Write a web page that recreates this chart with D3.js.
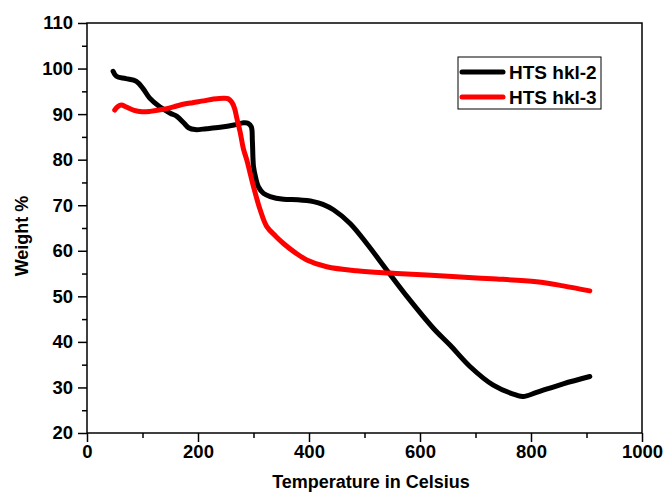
<!DOCTYPE html>
<html>
<head>
<meta charset="utf-8">
<script src="https://cdn.jsdelivr.net/npm/d3@7"></script>
<style>
  body { margin: 0; background: #fff; }
  text { font-family: "Liberation Sans", Arial, sans-serif; font-weight: bold; fill: #000; }
</style>
</head>
<body>
<div id="chart"></div>
<script>
// series: temperature (C) and weight (%)
const hkl2Temp = [47, 53, 70, 89, 101, 113, 131, 150, 162, 175, 183, 195, 215, 240, 265, 282, 290, 296, 298, 300, 304, 309, 318, 330, 354, 380, 408, 425, 444, 474, 504, 540, 579, 624, 654, 690, 732, 774, 786, 810, 858, 906];
const hkl2Weight = [99.4, 98.3, 97.8, 97.2, 95.6, 93.5, 91.6, 90.2, 89.5, 88.0, 87.0, 86.6, 86.8, 87.1, 87.6, 88.1, 88.0, 87.2, 84.0, 78.5, 76.0, 74.0, 72.6, 71.9, 71.3, 71.2, 70.8, 70.2, 69.0, 66.0, 61.6, 55.8, 49.6, 43.0, 39.3, 34.6, 30.5, 28.3, 28.0, 28.9, 30.8, 32.4];

const hkl3Temp = [50, 55, 62, 70, 85, 99, 114, 135, 156, 168, 190, 210, 228, 246, 254, 261, 266, 270, 276, 282, 288, 294, 300, 312, 324, 340, 354, 375, 396, 432, 486, 546, 612, 702, 738, 810, 858, 906];
const hkl3Weight = [90.9, 91.6, 92.0, 91.6, 90.8, 90.5, 90.6, 91.0, 91.6, 92.0, 92.5, 92.9, 93.3, 93.5, 93.4, 92.6, 91.2, 89.1, 86.0, 82.3, 79.9, 77.0, 74.1, 69.0, 65.3, 63.2, 61.6, 59.6, 58.0, 56.5, 55.6, 55.1, 54.7, 54.0, 53.8, 53.2, 52.3, 51.2];

const seriesNames = ['HTS hkl-2', 'HTS hkl-3'];
const seriesColors = ['#000000', '#ff0000'];

const xTicks = [0, 200, 400, 600, 800, 1000];
const yTicks = [20, 30, 40, 50, 60, 70, 80, 90, 100, 110];

const w = 667, h = 500;
const m = { left: 87, right: 25, top: 23, bottom: 67 };

const svg = d3.select('#chart').append('svg')
  .attr('width', w).attr('height', h);

const xScale = d3.scaleLinear().domain([0, 1000]).range([m.left, w - m.right]);
const yScale = d3.scaleLinear().domain([20, 110]).range([h - m.bottom, m.top]);

// frame
svg.append('rect')
  .attr('x', xScale(0)).attr('y', yScale(110))
  .attr('width', xScale(1000) - xScale(0))
  .attr('height', yScale(20) - yScale(110))
  .attr('fill', 'none').attr('stroke', '#000').attr('stroke-width', 1.5);

// minor ticks
svg.append('g')
  .attr('transform', 'translate(0,' + yScale(20) + ')')
  .call(d3.axisBottom(xScale).tickValues(d3.range(100, 1000, 200)).tickSize(5).tickFormat(''))
  .call(g => g.select('.domain').remove())
  .selectAll('line').attr('stroke-width', 1.5);
svg.append('g')
  .attr('transform', 'translate(' + xScale(0) + ',0)')
  .call(d3.axisLeft(yScale).tickValues(d3.range(25, 110, 10)).tickSize(5).tickFormat(''))
  .call(g => g.select('.domain').remove())
  .selectAll('line').attr('stroke-width', 1.5);

// major ticks + labels
const xAxis = svg.append('g')
  .attr('transform', 'translate(0,' + yScale(20) + ')')
  .call(d3.axisBottom(xScale).tickValues(xTicks).tickFormat(d3.format('d')).tickSize(9).tickPadding(3));
xAxis.select('.domain').remove();
xAxis.selectAll('line').attr('stroke-width', 1.5);
xAxis.selectAll('text').style('font-size', '18.5px').attr('font-family', null);

const yAxis = svg.append('g')
  .attr('transform', 'translate(' + xScale(0) + ',0)')
  .call(d3.axisLeft(yScale).tickValues(yTicks).tickSize(9).tickPadding(5));
yAxis.select('.domain').remove();
yAxis.selectAll('line').attr('stroke-width', 1.5);
yAxis.selectAll('text').style('font-size', '18.5px').attr('font-family', null);

// axis titles
svg.append('text')
  .attr('x', 371).attr('y', 488)
  .attr('text-anchor', 'middle').style('font-size', '18px')
  .text('Temperature in Celsius');
svg.append('text')
  .attr('transform', 'translate(28,236) rotate(-90)')
  .attr('text-anchor', 'middle').style('font-size', '18px')
  .text('Weight %');

// curves
const line = d3.line()
  .x(d => xScale(d[0]))
  .y(d => yScale(d[1]))
  .curve(d3.curveCatmullRom);

const series = [
  d3.zip(hkl2Temp, hkl2Weight),
  d3.zip(hkl3Temp, hkl3Weight)
];

series.forEach((pts, i) => {
  svg.append('path')
    .datum(pts)
    .attr('d', line)
    .attr('fill', 'none')
    .attr('stroke', seriesColors[i])
    .attr('stroke-width', 5)
    .attr('stroke-linecap', 'round')
    .attr('stroke-linejoin', 'round');
});

// legend
const legend = svg.append('g');
legend.append('rect')
  .attr('x', 458).attr('y', 57).attr('width', 143).attr('height', 52)
  .attr('fill', '#fff').attr('stroke', '#000').attr('stroke-width', 1);
seriesNames.forEach((name, i) => {
  const y = 72 + i * 25;
  legend.append('line')
    .attr('x1', 462).attr('x2', 503).attr('y1', y).attr('y2', y)
    .attr('stroke', seriesColors[i]).attr('stroke-width', 5)
    .attr('stroke-linecap', 'round');
  legend.append('text')
    .attr('x', 509).attr('y', y + 7)
    .style('font-size', '19px')
    .text(name);
});
</script>
</body>
</html>
